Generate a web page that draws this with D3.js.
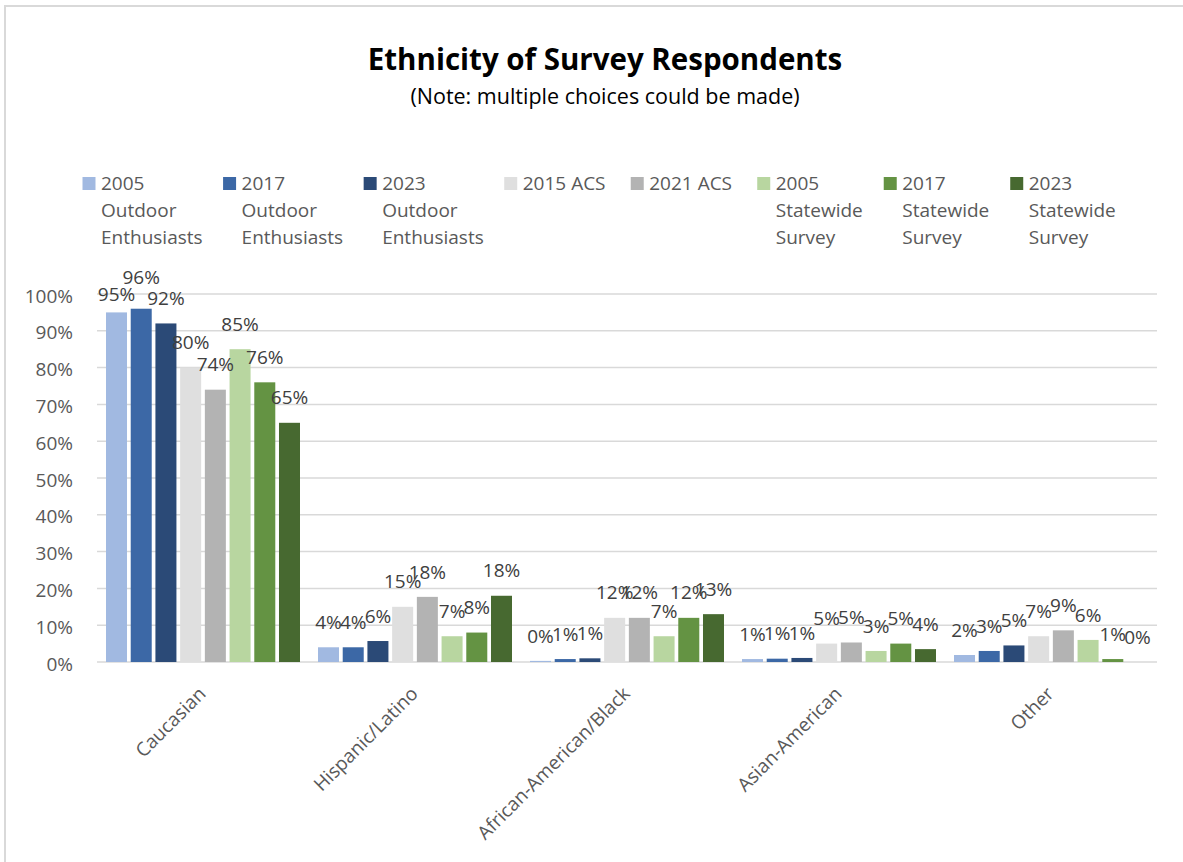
<!DOCTYPE html>
<html>
<head>
<meta charset="utf-8">
<script src="https://cdn.jsdelivr.net/npm/d3@7"></script>
<style>
  html, body { margin: 0; padding: 0; background: #fff; }
  svg { display: block; font-family: "Open Sans", "Liberation Sans", sans-serif; }
</style>
</head>
<body>
<svg id="chart" width="1183" height="862"></svg>
<script>
// ---------------- data ----------------
const categories = ["Caucasian", "Hispanic/Latino", "African-American/Black", "Asian-American", "Other"];
const seriesNames = [
  "2005 Outdoor Enthusiasts", "2017 Outdoor Enthusiasts", "2023 Outdoor Enthusiasts",
  "2015 ACS", "2021 ACS",
  "2005 Statewide Survey", "2017 Statewide Survey", "2023 Statewide Survey"
];
const oe2005 = [95, 4, 0.3, 0.8, 1.9];
const oe2017 = [96, 4, 0.8, 0.9, 3.0];
const oe2023 = [92, 5.7, 1.0, 1.1, 4.5];
const acs2015 = [80, 15, 12, 5, 7];
const acs2021 = [74, 17.7, 12, 5.3, 8.6];
const ss2005 = [85, 7, 7, 3, 6];
const ss2017 = [76, 8, 12, 5, 0.8];
const ss2023 = [65, 18, 13, 3.5, 0];
const labelText = [
  ["95%", "4%", "0%", "1%", "2%"],
  ["96%", "4%", "1%", "1%", "3%"],
  ["92%", "6%", "1%", "1%", "5%"],
  ["80%", "15%", "12%", "5%", "7%"],
  ["74%", "18%", "12%", "5%", "9%"],
  ["85%", "7%", "7%", "3%", "6%"],
  ["76%", "8%", "12%", "5%", "1%"],
  ["65%", "18%", "13%", "4%", "0%"]
];
const yTicks = [0, 10, 20, 30, 40, 50, 60, 70, 80, 90, 100];
const title = "Ethnicity of Survey Respondents";
const subtitle = "(Note: multiple choices could be made)";

// ---------------- styles ----------------
const colors = ["#a1b9e1", "#3c68a6", "#2b4a77", "#dfdfdf", "#b3b3b3", "#b8d6a0", "#649343", "#476930"];
const seriesValues = [oe2005, oe2017, oe2023, acs2015, acs2021, ss2005, ss2017, ss2023];

const svg = d3.select("#chart");
const W = 1183, H = 862;

// outer chart border (light gray)
svg.append("rect").attr("x", 5).attr("y", 6).attr("width", W + 10).attr("height", H + 10)
  .attr("fill", "#fff").attr("stroke", "#d9d9d9").attr("stroke-width", 2);

// title
svg.append("text").attr("x", 605).attr("y", 70).attr("text-anchor", "middle")
  .attr("font-size", 29.5).attr("font-weight", "bold").attr("fill", "#000").text(title);
svg.append("text").attr("x", 605).attr("y", 104).attr("text-anchor", "middle")
  .attr("font-size", 21.5).attr("fill", "#000").text(subtitle);

// scales
const plotLeft = 97, plotRight = 1157, plotTop = 294, plotBottom = 662;
const x0 = d3.scaleBand().domain(categories).range([plotLeft, plotRight]).padding(0);
const groupPad = 9;
const x1 = d3.scaleBand().domain(d3.range(seriesNames.length))
  .range([groupPad, x0.bandwidth() - groupPad]).paddingInner(0.15).paddingOuter(0);
const y = d3.scaleLinear().domain([0, 100]).range([plotBottom, plotTop]);

// gridlines
svg.append("g").selectAll("line").data(yTicks).join("line")
  .attr("x1", plotLeft).attr("x2", plotRight)
  .attr("y1", d => y(d)).attr("y2", d => y(d))
  .attr("stroke", "#d9d9d9").attr("stroke-width", 1.5);

// y axis labels
const yAxis = d3.axisLeft(y).tickValues(yTicks).tickFormat(d => d + "%").tickSize(0).tickPadding(0);
const gy = svg.append("g").attr("transform", `translate(73,2)`).call(yAxis);
gy.select(".domain").remove();
gy.selectAll("text").attr("font-size", 19).attr("fill", "#595959")
  .attr("font-family", "'Open Sans', sans-serif");

// x axis labels (rotated)
const xAxis = d3.axisBottom(x0).tickSize(0).tickPadding(0);
const gx = svg.append("g").call(xAxis);
gx.select(".domain").remove();
gx.selectAll(".tick").attr("transform", d => `translate(${x0(d) + x0.bandwidth() / 2 + 4},695)`);
gx.selectAll("text").attr("y", 0).attr("dy", 0).attr("transform", "rotate(-45)")
  .attr("text-anchor", "end").attr("font-size", 19).attr("fill", "#595959")
  .attr("font-family", "'Open Sans', sans-serif");

// bars
const groups = svg.append("g").selectAll("g").data(categories).join("g")
  .attr("transform", d => `translate(${x0(d)},0)`);
groups.selectAll("rect").data((c, ci) => seriesValues.map((vals, si) => ({ si, v: vals[ci] })))
  .join("rect")
  .attr("x", d => x1(d.si)).attr("width", x1.bandwidth())
  .attr("y", d => y(d.v)).attr("height", d => y(0) - y(d.v))
  .attr("fill", d => colors[d.si]);

// data labels (outside end); labels that would stick out above the plot area
// and collide with a neighbour are pushed apart vertically
groups.each(function (c, ci) {
  const items = seriesValues.map((vals, si) => ({ si, ci, v: vals[ci], cy: y(vals[ci]) - 25 }));
  for (let i = 1; i < items.length; i++) {
    const a = items[i - 1], b = items[i];
    if (a.cy < plotTop && b.cy < plotTop && Math.abs(a.cy - b.cy) < 17) {
      const mid = (a.cy + b.cy) / 2 + 1;
      const hi = a.v > b.v ? a : b, lo = a.v > b.v ? b : a;
      hi.cy = mid - 9; lo.cy = mid + 8;
    }
  }
  d3.select(this).selectAll("text.lbl").data(items).join("text").attr("class", "lbl")
    .attr("x", d => x1(d.si) + x1.bandwidth() / 2)
    .attr("y", d => d.cy)
    .attr("dy", "0.35em")
    .attr("text-anchor", "middle").attr("font-size", 19).attr("fill", "#404040")
    .text(d => labelText[d.si][d.ci]);
});

// legend (flow layout with word wrap)
const legend = svg.append("g");
let lx = 82.5;
const ly = 183, lineH = 27, maxW = 106, minTextW = 87.5;
seriesNames.forEach((name, i) => {
  const g = legend.append("g").attr("transform", `translate(${lx},0)`);
  g.append("rect").attr("x", 0).attr("y", ly - 6).attr("width", 13).attr("height", 13).attr("fill", colors[i]);
  const t = g.append("text").attr("font-size", 19).attr("fill", "#595959");
  const words = name.split(" ");
  let lines = [], cur = "";
  const probe = g.append("text").attr("font-size", 19).attr("visibility", "hidden");
  words.forEach(w => {
    const test = cur ? cur + " " + w : w;
    probe.text(test);
    if (cur && probe.node().getComputedTextLength() > maxW) { lines.push(cur); cur = w; }
    else cur = test;
  });
  lines.push(cur);
  probe.remove();
  lines.forEach((ln, k) => {
    t.append("tspan").attr("x", 18.5).attr("y", ly + k * lineH).attr("dy", "0.35em").text(ln);
  });
  const wMax = Math.max(minTextW, t.node().getBBox().width);
  lx += 18.5 + wMax + 20.5;
});
</script>
</body>
</html>
